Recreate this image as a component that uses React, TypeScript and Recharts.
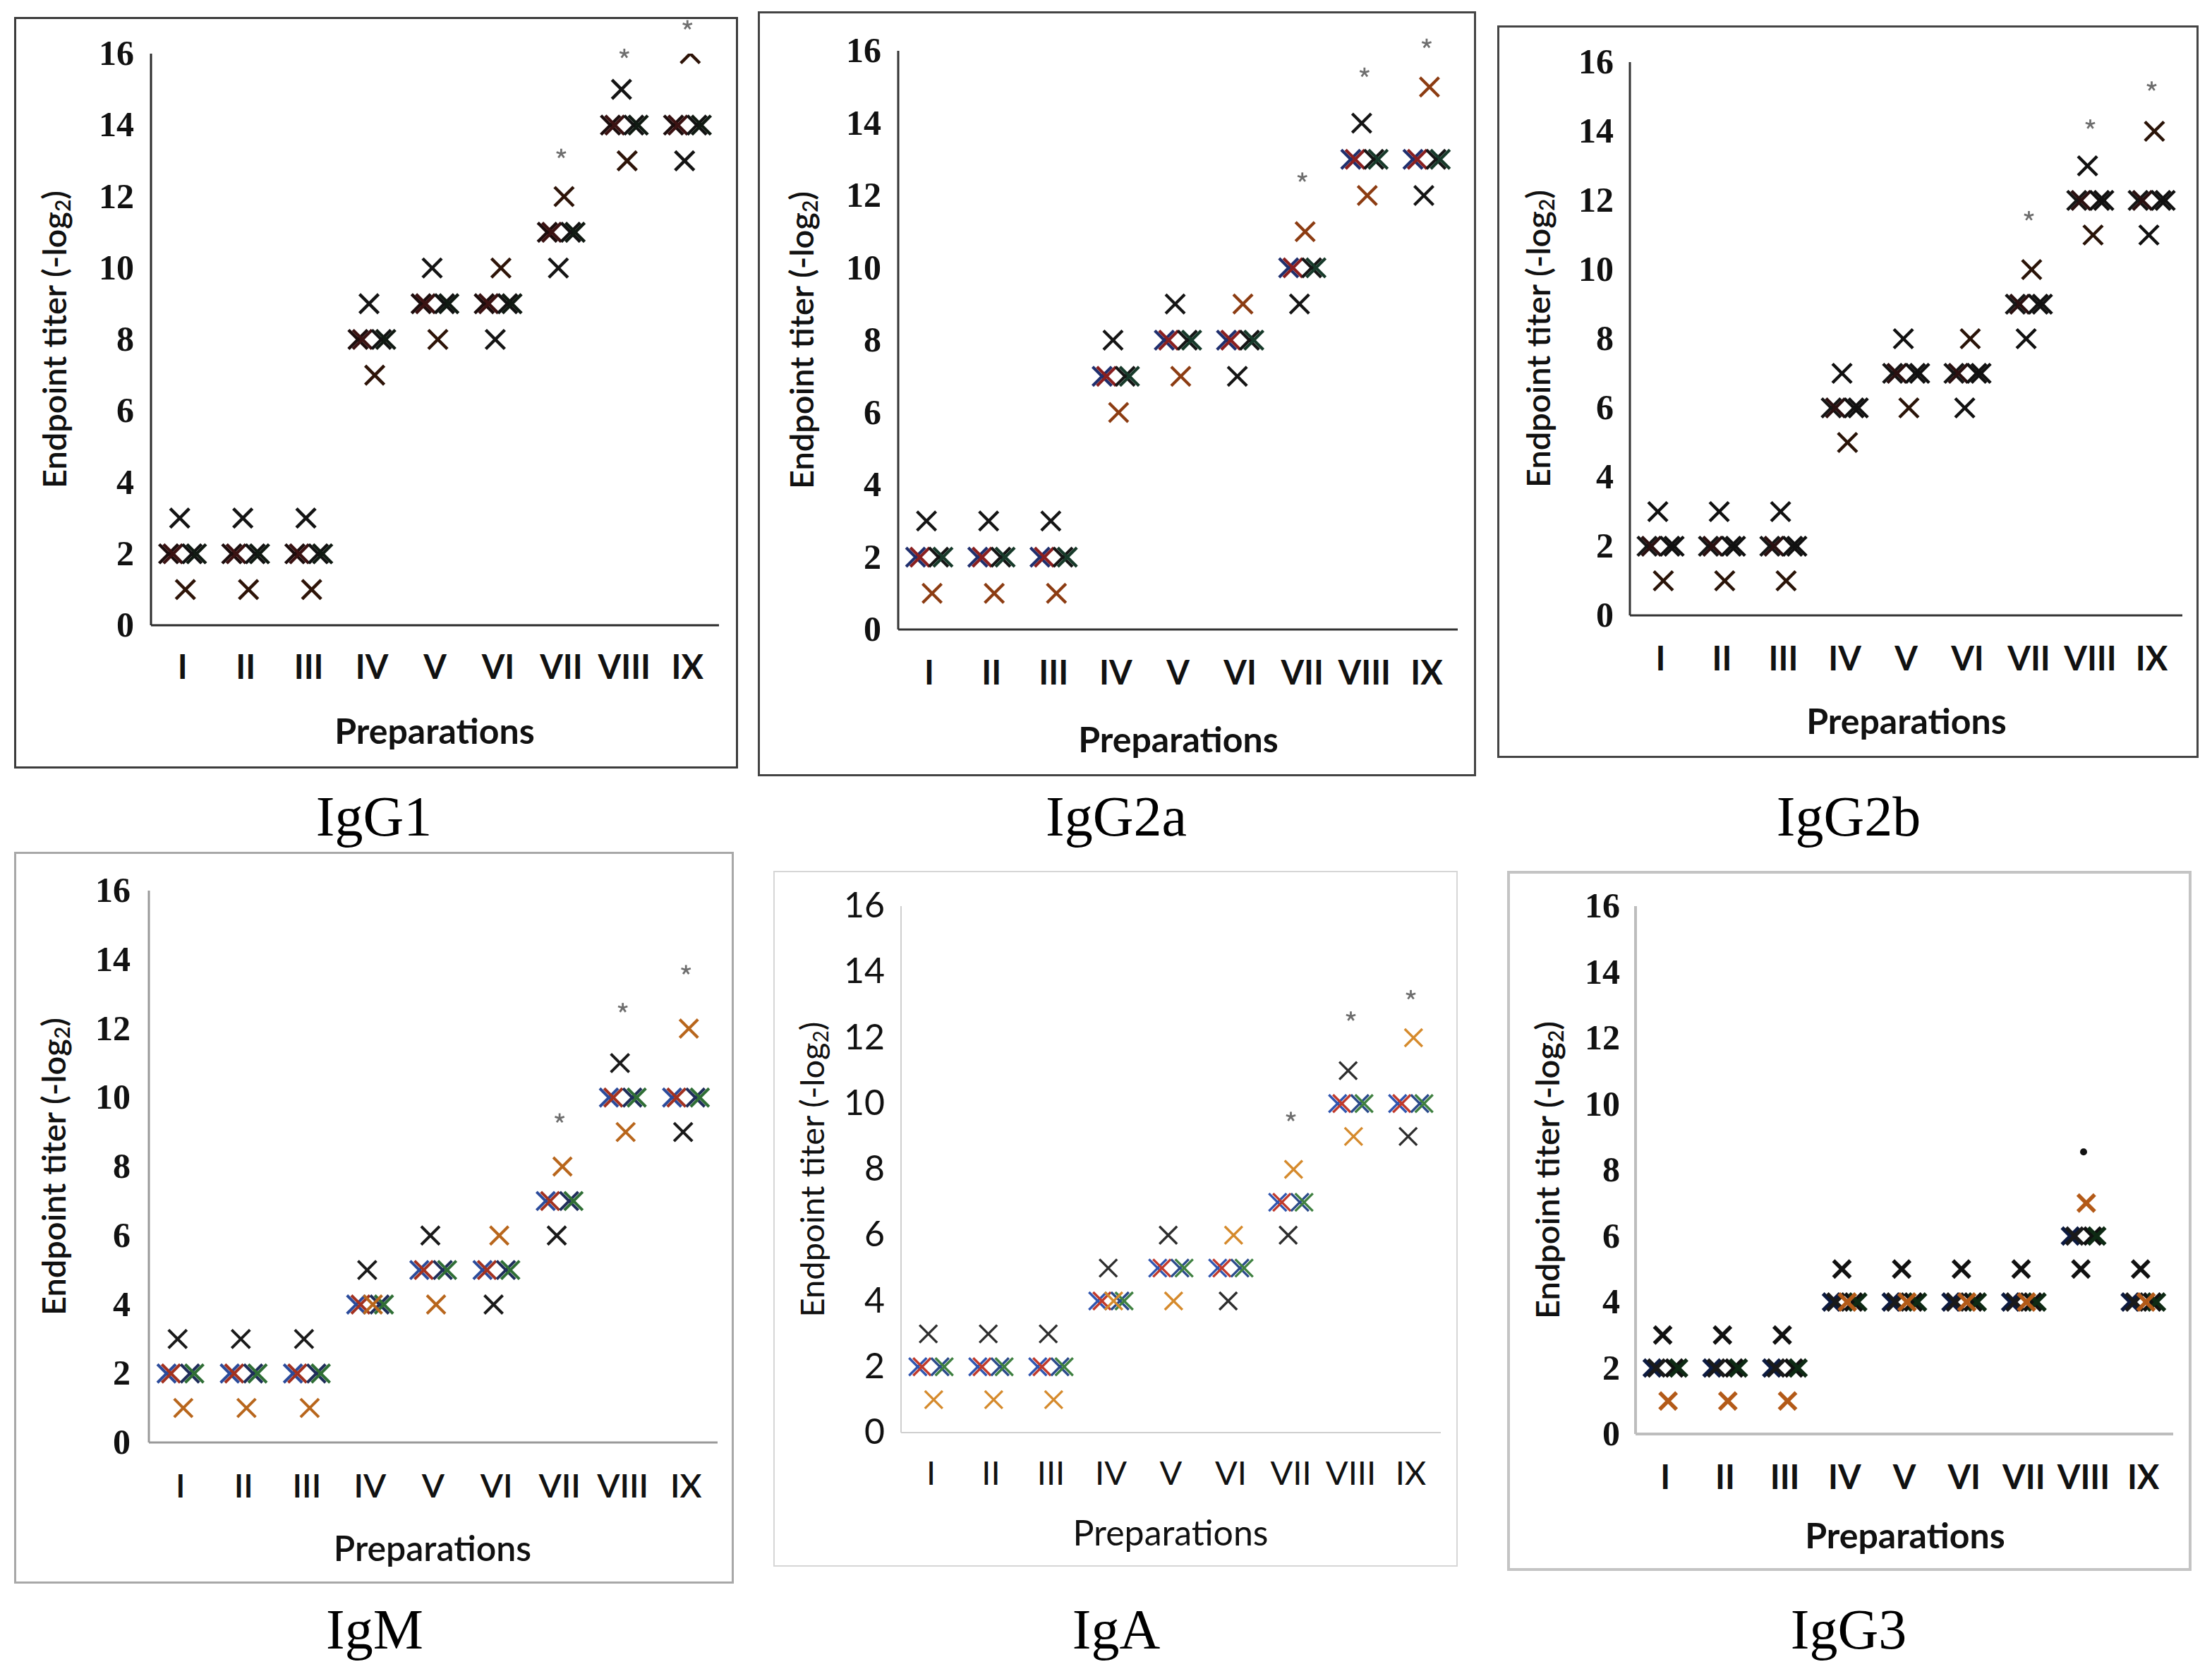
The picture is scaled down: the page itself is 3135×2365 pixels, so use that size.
import React from "react";
import { ScatterChart, Scatter, XAxis, YAxis, ReferenceDot, Label } from "recharts";

const preparations = ["I", "II", "III", "IV", "V", "VI", "VII", "VIII", "IX"];
const yTicks = [0, 2, 4, 6, 8, 10, 12, 14, 16];

// IgG1
const igg1Cluster = [2, 2, 2, 8, 9, 9, 11, 14, 14];
const igg1Black = [3, 3, 3, 9, 10, 8, 10, 15, 13];
const igg1Orange = [1, 1, 1, 7, 8, 10, 12, 13, 16];
const igg1Stars = [null, null, null, null, null, null, 13.2, 16.0, 16.8];

// IgG2a
const igg2aCluster = [2, 2, 2, 7, 8, 8, 10, 13, 13];
const igg2aBlack = [3, 3, 3, 8, 9, 7, 9, 14, 12];
const igg2aOrange = [1, 1, 1, 6, 7, 9, 11, 12, 15];
const igg2aStars = [null, null, null, null, null, null, 12.5, 15.4, 16.2];

// IgG2b
const igg2bCluster = [2, 2, 2, 6, 7, 7, 9, 12, 12];
const igg2bBlack = [3, 3, 3, 7, 8, 6, 8, 13, 11];
const igg2bOrange = [1, 1, 1, 5, 6, 8, 10, 11, 14];
const igg2bStars = [null, null, null, null, null, null, 11.55, 14.2, 15.3];

// IgM
const igmCluster = [2, 2, 2, 4, 5, 5, 7, 10, 10];
const igmBlack = [3, 3, 3, 5, 6, 4, 6, 11, 9];
const igmOrange = [1, 1, 1, 4, 4, 6, 8, 9, 12];
const igmStars = [null, null, null, null, null, null, 9.4, 12.6, 13.7];

// IgA
const igaCluster = [2, 2, 2, 4, 5, 5, 7, 10, 10];
const igaBlack = [3, 3, 3, 5, 6, 4, 6, 11, 9];
const igaOrange = [1, 1, 1, 4, 4, 6, 8, 9, 12];
const igaStars = [null, null, null, null, null, null, 9.6, 12.65, 13.3];

// IgG3
const igg3Cluster = [2, 2, 2, 4, 4, 4, 4, 6, 4];
const igg3Black = [3, 3, 3, 5, 5, 5, 5, 5, 5];
const igg3Orange = [1, 1, 1, 4, 4, 4, 4, 7, 4];
const igg3Stars = [null, null, null, null, null, null, null, 8.55, null];

// horizontal jitter of the replicate mice inside a category
const clusterOffsets = [-0.22, -0.15, 0.15, 0.22];
const blackOffset = -0.045;
const orangeOffset = 0.045;

const SANS = "Lato, 'Open Sans', sans-serif";
const SERIF = "'Liberation Serif', 'DejaVu Serif', serif";

const panels = [
  {
    name: "IgG1", cluster: igg1Cluster, black: igg1Black, orange: igg1Orange, stars: igg1Stars,
    box: [20, 24, 1046, 1089], axisX: 214, plotRight: 1019, y16: 76, y0: 886,
    tickGap: 24, xTickBase: 76, prepX: 616, prepBase: 1054, ylabX: 76, capX: 530, capBase: 1184,
    border: "#3c3c3c", borderW: 3, axis: "#2b2b2b", axisW: 3,
    clusterColors: ["#1c0d0d", "#3b1212", "#121212", "#101a12"], blackColor: "#141414", orangeColor: "#2e1408",
    sw: 4.5, size: 27, numFont: SERIF, numWeight: 700, textWeight: 700, clip: true,
  },
  {
    name: "IgG2a", cluster: igg2aCluster, black: igg2aBlack, orange: igg2aOrange, stars: igg2aStars,
    box: [1074, 16, 2092, 1100], axisX: 1273, plotRight: 2066, y16: 72, y0: 892,
    tickGap: 24, xTickBase: 78, prepX: 1670, prepBase: 1066, ylabX: 1135, capX: 1582, capBase: 1184,
    border: "#444444", borderW: 3, axis: "#333333", axisW: 3,
    clusterColors: ["#1f2f6e", "#8a1f1f", "#151515", "#173a2a"], blackColor: "#151515", orangeColor: "#8c3c12",
    sw: 4.2, size: 27, numFont: SERIF, numWeight: 700, textWeight: 700, clip: false,
  },
  {
    name: "IgG2b", cluster: igg2bCluster, black: igg2bBlack, orange: igg2bOrange, stars: igg2bStars,
    box: [2122, 36, 3116, 1074], axisX: 2310, plotRight: 3093, y16: 88, y0: 872,
    tickGap: 23, xTickBase: 78, prepX: 2702, prepBase: 1040, ylabX: 2179, capX: 2620, capBase: 1184,
    border: "#444444", borderW: 3, axis: "#333333", axisW: 3,
    clusterColors: ["#151515", "#2a1010", "#111111", "#111111"], blackColor: "#111111", orangeColor: "#2a1408",
    sw: 4.5, size: 27, numFont: SERIF, numWeight: 700, textWeight: 700, clip: false,
  },
  {
    name: "IgM", cluster: igmCluster, black: igmBlack, orange: igmOrange, stars: igmStars,
    box: [20, 1207, 1040, 2244], axisX: 211, plotRight: 1017, y16: 1262, y0: 2044,
    tickGap: 26, xTickBase: 78, prepX: 613, prepBase: 2212, ylabX: 75, capX: 531, capBase: 2336,
    border: "#a8a8a8", borderW: 3, axis: "#9a9a9a", axisW: 3,
    clusterColors: ["#2b4b9b", "#a3311f", "#1f2d5a", "#2f6e35"], blackColor: "#1a1a1a", orangeColor: "#b8661c",
    sw: 4, size: 26, numFont: SERIF, numWeight: 700, textWeight: 600, clip: false,
  },
  {
    name: "IgA", cluster: igaCluster, black: igaBlack, orange: igaOrange, stars: igaStars,
    box: [1096, 1234, 2066, 2220], axisX: 1277, plotRight: 2042, y16: 1284, y0: 2030,
    tickGap: 23, xTickBase: 74, prepX: 1659, prepBase: 2190, ylabX: 1150, capX: 1582, capBase: 2336,
    border: "#d6d6d6", borderW: 2, axis: "#cfcfcf", axisW: 2,
    clusterColors: ["#2f55b0", "#c0392b", "#2a4a8a", "#3f8040"], blackColor: "#2e2e2e", orangeColor: "#d58a2c",
    sw: 3.4, size: 25, numFont: SANS, numWeight: 400, textWeight: 400, clip: false,
  },
  {
    name: "IgG3", cluster: igg3Cluster, black: igg3Black, orange: igg3Orange, stars: igg3Stars,
    box: [2136, 1234, 3106, 2226], axisX: 2318, plotRight: 3080, y16: 1284, y0: 2032,
    tickGap: 22, xTickBase: 78, prepX: 2700, prepBase: 2194, ylabX: 2192, capX: 2620, capBase: 2336,
    border: "#c4c4c4", borderW: 4, axis: "#bdbdbd", axisW: 4,
    clusterColors: ["#0c1a40", "#1a1a1a", "#101010", "#0e2a14"], blackColor: "#111111", orangeColor: "#b35a18",
    sw: 5.5, size: 24, numFont: SERIF, numWeight: 700, textWeight: 700, clip: false, dotStar: true,
  },
];

const xMark = (color: string, size: number, sw: number) => (props: any) => {
  const { cx, cy } = props;
  if (cx == null || cy == null) return <g />;
  const h = size / 2;
  return (
    <g>
      <line x1={cx - h} y1={cy - h} x2={cx + h} y2={cy + h} stroke={color} strokeWidth={sw} />
      <line x1={cx - h} y1={cy + h} x2={cx + h} y2={cy - h} stroke={color} strokeWidth={sw} />
    </g>
  );
};

const asterisk = (dot: boolean) => (props: any) => {
  const { cx, cy } = props;
  if (dot) return <circle cx={cx} cy={cy} r={5} fill="#111" />;
  const r = 7;
  return (
    <g stroke="#6e6e6e" strokeWidth={2.8}>
      {[90, 162, 234, 306, 18].map((a) => (
        <line key={a} x1={cx} y1={cy} x2={cx + r * Math.cos((a * Math.PI) / 180)} y2={cy - r * Math.sin((a * Math.PI) / 180)} />
      ))}
    </g>
  );
};

function Panel({ p }: { p: any }) {
  const [L, T, R, B] = p.box;
  const w = R - L;
  const h = B - T;
  const series = [
    ...p.clusterColors.map((c: string, k: number) => ({ color: c, offset: clusterOffsets[k], values: p.cluster })),
    { color: p.blackColor, offset: blackOffset, values: p.black },
    { color: p.orangeColor, offset: orangeOffset, values: p.orange },
  ];
  const midY = (p.y16 + p.y0) / 2 - T;
  const ylx = p.ylabX - L;
  return (
    <div style={{ position: "absolute", left: L, top: T, width: w, height: h }}>
      <ScatterChart
        width={w}
        height={h}
        margin={{ top: p.y16 - T, right: R - p.plotRight, bottom: 0, left: 0 }}
      >
        <XAxis
          type="number"
          dataKey="x"
          domain={[0.5, 9.5]}
          ticks={preparations.map((_, i) => i + 1)}
          interval={0}
          height={B - p.y0}
          axisLine={{ stroke: p.axis, strokeWidth: p.axisW }}
          tickLine={false}
          tickSize={0}
          tickMargin={0}
          tick={(t: any) => (
            <text x={t.x} y={t.y + p.xTickBase} textAnchor="middle" fontFamily={SANS} fontSize={47} fontWeight={p.textWeight} fill="#111">
              {preparations[t.payload.value - 1]}
            </text>
          )}
        >
          <Label
            content={() => (
              <text x={p.prepX - L} y={p.prepBase - T} textAnchor="middle" fontFamily={SANS} fontSize={50} fontWeight={p.textWeight} fill="#111">
                Preparations
              </text>
            )}
          />
        </XAxis>
        <YAxis
          type="number"
          dataKey="y"
          domain={[0, 16]}
          ticks={yTicks}
          interval={0}
          allowDataOverflow={p.clip}
          width={p.axisX - L}
          axisLine={{ stroke: p.axis, strokeWidth: p.axisW }}
          tickLine={false}
          tickSize={0}
          tickMargin={p.tickGap}
          tick={(t: any) => (
            <text x={t.x} y={t.y} dy={16} textAnchor="end" fontFamily={p.numFont} fontSize={50} fontWeight={p.numWeight} fill="#111">
              {t.payload.value}
            </text>
          )}
        >
          <Label
            content={() => (
              <text
                x={ylx}
                y={midY}
                transform={`rotate(-90, ${ylx}, ${midY})`}
                textAnchor="middle"
                dominantBaseline="central"
                fontFamily={SANS}
                fontSize={47}
                fontWeight={p.textWeight === 400 ? 400 : 600}
                fill="#111"
              >
                Endpoint titer (-log
                <tspan fontSize={30} dy={12}>2</tspan>
                <tspan dy={-12}>)</tspan>
              </text>
            )}
          />
        </YAxis>
        {series.map((s: any, k: number) => (
          <Scatter
            key={k}
            data={s.values.map((v: number, i: number) => ({ x: i + 1 + s.offset, y: v }))}
            shape={xMark(s.color, p.size, p.sw)}
            isAnimationActive={false}
          />
        ))}
        {p.stars.map((v: number | null, i: number) =>
          v == null ? null : (
            <ReferenceDot key={`s${i}`} x={i + 1} y={v} ifOverflow="visible" shape={asterisk(!!p.dotStar)} />
          )
        )}
      </ScatterChart>
      <div
        style={{
          position: "absolute",
          left: 0,
          top: 0,
          width: w,
          height: h,
          boxSizing: "border-box",
          border: `${p.borderW}px solid ${p.border}`,
          pointerEvents: "none",
        }}
      />
    </div>
  );
}

export default function App() {
  return (
    <div style={{ position: "absolute", left: 0, top: 0, width: 3135, height: 2365, background: "#fff" }}>
      <svg width={3135} height={2365} style={{ position: "absolute", left: 0, top: 0 }}>
        {panels.map((p) => (
          <text key={p.name} x={p.capX} y={p.capBase} textAnchor="middle" fontFamily={SERIF} fontSize={80} fill="#000">
            {p.name}
          </text>
        ))}
      </svg>
      {panels.map((p) => (
        <Panel key={p.name} p={p} />
      ))}
    </div>
  );
}
